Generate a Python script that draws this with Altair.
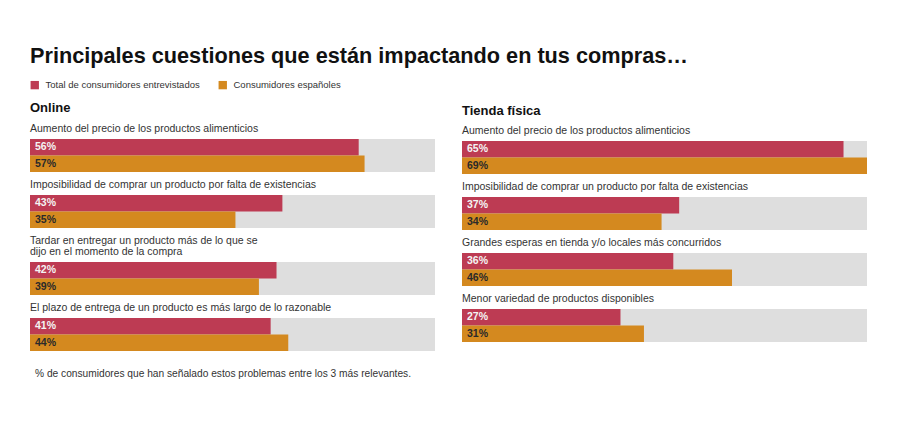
import altair as alt
import pandas as pd

# ---------------- data ----------------
series = ["Total de consumidores entrevistados", "Consumidores españoles"]

online_questions = [
    "Aumento del precio de los productos alimenticios",
    "Imposibilidad de comprar un producto por falta de existencias",
    ["Tardar en entregar un producto más de lo que se", "dijo en el momento de la compra"],
    "El plazo de entrega de un producto es más largo de lo razonable",
]
online_total = [56, 43, 42, 41]
online_es = [57, 35, 39, 44]

tienda_questions = [
    "Aumento del precio de los productos alimenticios",
    "Imposibilidad de comprar un producto por falta de existencias",
    "Grandes esperas en tienda y/o locales más concurridos",
    "Menor variedad de productos disponibles",
]
tienda_total = [65, 37, 36, 27]
tienda_es = [69, 34, 46, 31]

main_title = "Principales cuestiones que están impactando en tus compras…"
panel_titles = ["Online", "Tienda física"]
footnote = ["% de consumidores que han señalado estos problemas entre los 3 más relevantes."]

# ---------------- style ----------------
RED = "#BD3B53"
ORANGE = "#D4891F"
GREY = "#DEDEDE"
FONT = "Liberation Sans"
W = 405
H = 33
XMAX = 69


def question_chart(question, total, es):
    df = pd.DataFrame({
        "serie": series,
        "valor": [total, es],
        "label": [f"{total}%", f"{es}%"],
    })
    base = alt.Chart(df).encode(
        y=alt.Y("serie:N", sort=series, axis=None,
                scale=alt.Scale(paddingInner=0, paddingOuter=0)),
    )
    bars = base.mark_bar(cornerRadius=0).encode(
        x=alt.X("valor:Q", axis=None,
                scale=alt.Scale(domain=[0, XMAX], nice=False, zero=True)),
        color=alt.Color(
            "serie:N",
            scale=alt.Scale(domain=series, range=[RED, ORANGE]),
            legend=alt.Legend(title=None),
        ),
    )
    labels = base.mark_text(align="left", baseline="middle", dx=5,
                            fontWeight="bold", fontSize=10.5, font=FONT).encode(
        x=alt.value(0),
        text="label:N",
        color=alt.condition(alt.datum.serie == series[0],
                            alt.value("#F4F4F4"), alt.value("#2A2A2A")),
    )
    return alt.layer(bars, labels).properties(
        width=W, height=H,
        title=alt.TitleParams(question, anchor="start", fontSize=10.5,
                              fontWeight="normal", color="#333333", font=FONT,
                              offset=5, lineHeight=11),
        view=alt.ViewBackground(fill=GREY, stroke=None),
    )


def header_chart(text, height, ypos):
    return alt.Chart(pd.DataFrame({"t": [text]})).mark_text(
        align="left", baseline="alphabetic", fontSize=13, fontWeight="bold",
        font=FONT, color="#111111"
    ).encode(x=alt.value(0), y=alt.value(ypos), text="t:N").properties(
        width=W, height=height, view=alt.ViewBackground(stroke=None)
    )


left_charts = [question_chart(q, t, e) for q, t, e in zip(online_questions, online_total, online_es)]
foot = alt.Chart(pd.DataFrame({"t": footnote})).mark_text(
    align="left", baseline="middle", fontSize=10.2, font=FONT, color="#333333"
).encode(x=alt.value(5), y=alt.value(16), text="t:N").properties(
    width=W, height=24, view=alt.ViewBackground(stroke=None)
)
left = alt.vconcat(header_chart(panel_titles[0], 16, 12), *left_charts, foot, spacing=7)

right_charts = [question_chart(q, t, e) for q, t, e in zip(tienda_questions, tienda_total, tienda_es)]
right = alt.vconcat(header_chart(panel_titles[1], 18, 14.5), *right_charts, spacing=7)

chart = alt.hconcat(left, right, spacing=27).properties(
    title=alt.TitleParams(main_title, anchor="start", fontSize=21.7, fontWeight="bold",
                          color="#111111", font=FONT, offset=12),
    padding={"left": 22, "top": 38, "right": 5, "bottom": 5},
).configure_legend(
    orient="top", direction="horizontal", symbolType="square", symbolSize=70,
    labelFontSize=9.5, labelFont=FONT, labelColor="#333333", columnPadding=18,
    symbolStrokeWidth=0, labelOffset=6, offset=10,
).configure_view(stroke=None)

chart.save("out.html", embed_options={"renderer": "svg", "actions": False})
